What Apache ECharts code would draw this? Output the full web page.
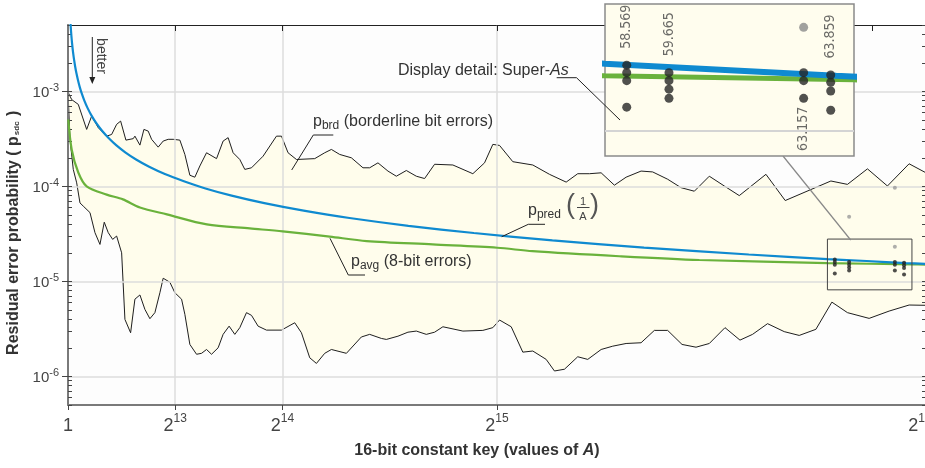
<!DOCTYPE html>
<html><head><meta charset="utf-8">
<script src="https://cdn.jsdelivr.net/npm/echarts@6/dist/echarts.min.js"></script>
<style>html,body{margin:0;padding:0;background:#fff}#c{width:925px;height:468px}</style>
</head><body><div id="c"></div>
<script>
// ---------------- data ----------------
// upper envelope (black, top of yellow band)
const upperA = [1, 23, 282, 786, 1427, 1808, 2312, 2953, 3334, 3716, 4021, 4425, 4982, 5112, 5494, 5799, 6127, 6386, 6890, 7271, 7653, 8034, 8546, 8927, 9309, 9690, 10072, 10583, 11346, 11849, 12231, 12613, 13124, 13505, 14017, 14902, 15924, 16306, 16809, 17450, 18846, 19609, 20120, 20754, 21646, 22531, 23043, 23676, 24439, 25080, 25843, 26606, 27239, 28001, 29398, 30924, 31817, 32450, 32962, 33977, 35503, 36777, 38051, 38936, 39829, 40722, 41736, 42629, 43773, 44658, 45803, 46825, 47841, 48985, 50129, 51274, 53311, 54783, 58271, 59537, 61063, 62590, 64245, 65536];
const upperP = [6e-3, 9.7e-4, 8.2e-4, 7.3e-4, 3.98e-4, 5.5e-4, 4.15e-4, 3.38e-4, 3.52e-4, 4.5e-4, 4.87e-4, 3.07e-4, 3.18e-4, 3.38e-4, 2.72e-4, 3.98e-4, 3.82e-4, 3.13e-4, 2.59e-4, 3.0e-4, 3.13e-4, 3.13e-4, 3.07e-4, 2.17e-4, 1.31e-4, 1.25e-4, 1.64e-4, 2.26e-4, 1.96e-4, 3.0e-4, 3.26e-4, 2.26e-4, 1.92e-4, 1.51e-4, 1.57e-4, 2.08e-4, 3.38e-4, 3.38e-4, 2.26e-4, 1.92e-4, 1.96e-4, 2.26e-4, 2.45e-4, 2.17e-4, 2.0e-4, 1.57e-4, 1.57e-4, 1.77e-4, 1.45e-4, 1.28e-4, 1.47e-4, 1.28e-4, 1.21e-4, 1.71e-4, 1.68e-4, 1.36e-4, 1.77e-4, 2.77e-4, 2.70e-4, 1.82e-4, 1.68e-4, 1.34e-4, 1.11e-4, 1.36e-4, 1.36e-4, 1.39e-4, 1.03e-4, 1.25e-4, 1.45e-4, 1.42e-4, 1.19e-4, 9.7e-5, 8.9e-5, 1.28e-4, 1.01e-4, 8.0e-5, 1.34e-4, 7.1e-5, 1.14e-4, 1.05e-4, 1.53e-4, 1.01e-4, 1.73e-4, 1.39e-4];
// lower envelope (black, bottom of yellow band)
const lowerA = [1, 153, 404, 664, 916, 1167, 1679, 2060, 2442, 2770, 3075, 3411, 3716, 4097, 4349, 4784, 5112, 5494, 5876, 6257, 6638, 7020, 7271, 7783, 8164, 8676, 8927, 9309, 9820, 10202, 10583, 10965, 11468, 11849, 12307, 12742, 13124, 13635, 14017, 14520, 15161, 16306, 17320, 17831, 18465, 18976, 19609, 20120, 21265, 22409, 23043, 23936, 24317, 25202, 25965, 26606, 27369, 28001, 28636, 30162, 31688, 32450, 32962, 33854, 34740, 35503, 36525, 37158, 37921, 38936, 39699, 40722, 41607, 42629, 43773, 44788, 45803, 46902, 47970, 48985, 50183, 51327, 52288, 53433, 54707, 55852, 57126, 58347, 59537, 61193, 62719, 64245, 65536];
const lowerP = [1.0e-3, 3.13e-4, 1.51e-4, 1.09e-4, 6.7e-5, 6.2e-5, 5.3e-5, 3.26e-5, 2.45e-5, 4.2e-5, 3.26e-5, 2.77e-5, 3.0e-5, 2.0e-5, 3.98e-6, 2.88e-6, 6.5e-6, 7.2e-6, 5.07e-6, 4.05e-6, 4.69e-6, 7.6e-6, 1.08e-5, 9.8e-6, 7.6e-6, 6.5e-6, 4.5e-6, 2.17e-6, 1.71e-6, 1.75e-6, 1.92e-6, 1.71e-6, 2.0e-6, 2.77e-6, 3.38e-6, 2.77e-6, 3.26e-6, 4.69e-6, 4.39e-6, 3.38e-6, 3.07e-6, 3.07e-6, 3.67e-6, 2.88e-6, 1.57e-6, 1.37e-6, 1.75e-6, 1.92e-6, 1.75e-6, 2.6e-6, 2.77e-6, 2.51e-6, 2.45e-6, 2.65e-6, 2.92e-6, 3.0e-6, 2.77e-6, 2.92e-6, 3.33e-6, 3.0e-6, 3.05e-6, 3.26e-6, 3.92e-6, 3.33e-6, 1.8e-6, 1.85e-6, 1.51e-6, 1.14e-6, 1.19e-6, 1.61e-6, 1.51e-6, 1.92e-6, 2.08e-6, 2.22e-6, 2.26e-6, 3.05e-6, 3.05e-6, 2.17e-6, 2.03e-6, 2.22e-6, 3.26e-6, 2.41e-6, 2.77e-6, 3.59e-6, 2.96e-6, 2.70e-6, 3.13e-6, 6.05e-6, 4.69e-6, 4.08e-6, 4.87e-6, 5.64e-6, 5.6e-6];
// p_pred (blue)
const predA = [150, 175, 200, 230, 260, 300, 350, 400, 470, 550, 650, 760, 900, 1050, 1250, 1500, 1800, 2150, 2600, 3100, 3700, 4400, 5200, 6200, 7400, 8800, 10500, 12500, 15000, 18000, 21500, 26000, 31000, 37000, 44000, 52000, 58000, 61000, 64000, 65536];
const predP = [6.67e-3, 5.71e-3, 5.0e-3, 4.35e-3, 3.85e-3, 3.33e-3, 2.86e-3, 2.5e-3, 2.13e-3, 1.82e-3, 1.54e-3, 1.32e-3, 1.11e-3, 9.52e-4, 8.0e-4, 6.67e-4, 5.56e-4, 4.65e-4, 3.85e-4, 3.23e-4, 2.70e-4, 2.27e-4, 1.92e-4, 1.61e-4, 1.35e-4, 1.14e-4, 9.52e-5, 8.0e-5, 6.67e-5, 5.56e-5, 4.65e-5, 3.85e-5, 3.23e-5, 2.70e-5, 2.27e-5, 1.92e-5, 1.72e-5, 1.64e-5, 1.56e-5, 1.53e-5];
// p_avg (green)
const avgA = [23, 282, 786, 1427, 2953, 4197, 5494, 7554, 10606, 13887, 16405, 19991, 22814, 27850, 32787, 35480, 42118, 48222, 58000, 64460, 65536];
const avgP = [5.07e-4, 2.45e-4, 1.40e-4, 1.0e-4, 8.2e-5, 7.3e-5, 6.0e-5, 5.07e-5, 3.98e-5, 3.61e-5, 3.36e-5, 2.96e-5, 2.66e-5, 2.45e-5, 2.26e-5, 2.08e-5, 1.84e-5, 1.68e-5, 1.56e-5, 1.51e-5, 1.50e-5];
// Super-As
const superA = [58569, 59665, 63157, 63859];
const superALabels = ['58.569', '59.665', '63.157', '63.859'];
const superALabelPos = ['top', 'top', 'bottom', 'top'];
const superADots = [
  [1.70e-5, 1.60e-5, 1.50e-5, 1.21e-5],
  [1.60e-5, 1.50e-5, 1.40e-5, 1.30e-5],
  [1.60e-5, 1.50e-5, 1.30e-5],
  [1.57e-5, 1.48e-5, 1.38e-5, 1.18e-5]
];
const outlierA = [59665, 63157, 63157];
const outlierP = [4.8e-5, 9.7e-5, 2.31e-5];
// axes
const xTickValues = [1, 8192, 16384, 32768, 65536];
const xTickBase = ['1', '2', '2', '2', '2'];
const xTickExp = ['', '13', '14', '15', '16'];
const xTopTicks = [8192, 16384, 32768, 61440];
const yTickValues = [1e-6, 1e-5, 1e-4, 1e-3];
const yTickExp = ['-6', '-5', '-4', '-3'];
const yMin = 5e-7, yMax = 5e-3;
const insetX = [58006, 64463];
const insetY = [8.15e-6, 2.79e-5];

// ---------------- build ----------------
const zip = (a, b) => a.map((v, i) => [v, b[i]]);
const yMinor = [];
for (let e = -7; e <= -3; e++) for (let m = 1; m <= 9; m++) {
  const v = m * Math.pow(10, e);
  if (v >= yMin * 0.999 && v <= yMax * 1.001) yMinor.push(v);
}
const superAPoints = [];
superA.forEach((a, i) => superADots[i].forEach(p => superAPoints.push([a, p])));
const insetDotData = [];
superA.forEach((a, i) => {
  const col = superADots[i];
  const li = superALabelPos[i] === 'top' ? 0 : col.length - 1;
  col.forEach((p, j) => {
    const item = { value: [a, p] };
    if (j === li) {
      const top = superALabelPos[i] === 'top';
      item.label = {
        show: true, formatter: superALabels[i], position: top ? 'top' : 'bottom',
        distance: top ? 12 : 4, rotate: 90, align: top ? 'left' : 'right', verticalAlign: 'middle',
        fontSize: 14, fontFamily: '"Liberation Sans Narrow", "DejaVu Sans Condensed", sans-serif', color: '#444'
      };
    }
    insetDotData.push(item);
  });
});
const FONT = '"Liberation Sans", Arial, Helvetica, sans-serif';
const nearest = (arr, v, log) => {
  let bi = 0, bd = Infinity;
  arr.forEach((t, i) => { const d = log ? Math.abs(Math.log10(t) - Math.log10(v)) : Math.abs(t - v); if (d < bd) { bd = d; bi = i; } });
  return bi;
};
const band = '#fffdec', plotBg = '#fdfdfd';
const blue = '#0f8ad0', green = '#6ab23c', ink = '#1e1e1e';

const chart = echarts.init(document.getElementById('c'), null, { renderer: 'canvas' });
chart.setOption({
  animation: false,
  textStyle: { fontFamily: FONT },
  grid: [
    { left: 68, right: -1, top: 25, bottom: 63, show: true, backgroundColor: plotBg, borderWidth: 0, containLabel: false, outerBoundsMode: 'none' },
    { left: 605, top: 4, width: 249, height: 152, show: true, backgroundColor: '#fffdee', borderColor: '#8a8a8a', borderWidth: 1.5, z: 10, containLabel: false, outerBoundsMode: 'none' }
  ],
  xAxis: [
    {
      gridIndex: 0, type: 'value', min: 1, max: 65536, position: 'bottom', z: 3,
      axisLine: { show: true, onZero: false, lineStyle: { color: '#7a7a7a', width: 2 } },
      axisTick: { show: true, customValues: xTickValues, length: 5, lineStyle: { color: '#444', width: 1 } },
      axisLabel: {
        customValues: xTickValues, margin: 8,
        formatter: v => { const i = nearest(xTickValues, v, false); return xTickExp[i] ? '{b|' + xTickBase[i] + '}{s|' + xTickExp[i] + '}' + (i === xTickValues.length - 1 ? '{g|}' : '') : '{b|' + xTickBase[i] + '}'; },
        rich: {
          b: { fontSize: 18, lineHeight: 22, verticalAlign: 'bottom', color: '#444', fontFamily: FONT },
          s: { fontSize: 12, lineHeight: 12, verticalAlign: 'top', color: '#444', fontFamily: FONT },
          g: { width: 12 }
        }
      },
      splitLine: { show: true, lineStyle: { color: '#dcdcdc', width: 1.5 } },
      name: '{t|16-bit constant key (values of }{i|A}{t|)}', nameLocation: 'middle', nameGap: 38,
      nameTextStyle: {
        padding: [0, 40, 0, 0],
        rich: {
          t: { fontSize: 16, fontWeight: 'bold', color: '#333', fontFamily: FONT },
          i: { fontSize: 16, fontWeight: 'bold', fontStyle: 'italic', color: '#333', fontFamily: FONT }
        }
      }
    },
    {
      gridIndex: 0, type: 'value', min: 1, max: 65536, position: 'top', z: 3,
      axisLine: { show: true, onZero: false, lineStyle: { color: '#222', width: 1 } },
      axisTick: { show: true, inside: true, customValues: xTopTicks, length: 6, lineStyle: { color: '#222', width: 1 } },
      axisLabel: { show: false }, splitLine: { show: false }
    },
    {
      gridIndex: 1, type: 'value', min: insetX[0], max: insetX[1],
      axisLine: { show: false }, axisTick: { show: false }, axisLabel: { show: false }, splitLine: { show: false }
    }
  ],
  yAxis: [
    {
      gridIndex: 0, type: 'log', min: yMin, max: yMax, position: 'left', z: 3,
      axisLine: { show: true, onZero: false, lineStyle: { color: '#7a7a7a', width: 2 } },
      axisTick: { show: true, customValues: yTickValues, length: 6, lineStyle: { color: '#444', width: 1 } },
      axisLabel: {
        customValues: yTickValues, margin: 9,
        formatter: v => { const i = nearest(yTickValues, v, true); return '{b|10}{s|' + yTickExp[i] + '}'; },
        rich: {
          b: { fontSize: 15, lineHeight: 17, verticalAlign: 'bottom', color: '#444', fontFamily: FONT },
          s: { fontSize: 11, lineHeight: 11, verticalAlign: 'top', color: '#444', fontFamily: FONT }
        }
      },
      splitLine: { show: true, lineStyle: { color: '#dcdcdc', width: 1.5 } },
      name: '{t|Residual error probability ( p}{sub|sdc}{t| )}{g|\u00a0\u00a0\u00a0\u00a0\u00a0\u00a0\u00a0\u00a0}', nameLocation: 'middle', nameGap: 43,
      nameTextStyle: {
        rich: {
          t: { fontSize: 16, fontWeight: 'bold', color: '#333', fontFamily: FONT },
          sub: { fontSize: 8, fontWeight: 'bold', color: '#333', fontFamily: FONT, padding: [6, 1, 0, 1] },
          g: { fontSize: 16, fontFamily: FONT }
        }
      }
    },
    {
      gridIndex: 0, type: 'log', min: yMin, max: yMax, position: 'left', z: 3,
      axisLine: { show: false }, axisLabel: { show: false }, splitLine: { show: false },
      axisTick: { show: true, inside: true, customValues: yMinor, length: 4, lineStyle: { color: '#444', width: 1 } }
    },
    {
      gridIndex: 0, type: 'log', min: yMin, max: yMax, position: 'right', z: 3,
      axisLine: { show: true, onZero: false, lineStyle: { color: '#7a7a7a', width: 2 } }, axisLabel: { show: false }, splitLine: { show: false },
      axisTick: { show: true, inside: true, customValues: yMinor, length: 4, lineStyle: { color: '#444', width: 1 } }
    },
    {
      gridIndex: 1, type: 'log', min: insetY[0], max: insetY[1], z: 11,
      axisLine: { show: false }, axisTick: { show: false, customValues: [1e-5] }, axisLabel: { show: false, customValues: [1e-5] },
      splitLine: { show: true, lineStyle: { color: '#d4d4d4', width: 2 } }
    }
  ],
  series: [
    { name: 'max', type: 'line', xAxisIndex: 0, yAxisIndex: 0, z: 1, data: zip(upperA, upperP), symbol: 'none', silent: true,
      lineStyle: { color: ink, width: 1 }, areaStyle: { color: band, opacity: 1, origin: 'start' } },
    { name: 'min', type: 'line', xAxisIndex: 0, yAxisIndex: 0, z: 1, data: zip(lowerA, lowerP), symbol: 'none', silent: true,
      lineStyle: { color: ink, width: 1 }, areaStyle: { color: plotBg, opacity: 1, origin: 'start' } },
    { name: 'p_avg', type: 'line', xAxisIndex: 0, yAxisIndex: 0, z: 5, data: zip(avgA, avgP), symbol: 'none', smooth: 0.3, silent: true,
      lineStyle: { color: green, width: 2.2 } },
    { name: 'p_pred', type: 'line', xAxisIndex: 0, yAxisIndex: 0, z: 5, data: zip(predA, predP), symbol: 'none', smooth: 0.3, silent: true,
      lineStyle: { color: blue, width: 2.2 } },
    { name: 'detail box', type: 'custom', xAxisIndex: 0, yAxisIndex: 0, z: 6, silent: true, clip: false,
      data: [[insetX[0], insetY[0], insetX[1], insetY[1]]],
      renderItem: (params, api) => {
        const p0 = api.coord([api.value(0), api.value(3)]);
        const p1 = api.coord([api.value(2), api.value(1)]);
        return { type: 'rect', shape: { x: p0[0], y: p0[1], width: p1[0] - p0[0], height: p1[1] - p0[1] },
          style: { fill: 'none', stroke: '#444', lineWidth: 1 } };
      } },
    { name: 'superA', type: 'scatter', xAxisIndex: 0, yAxisIndex: 0, z: 6, data: superAPoints, symbolSize: 4, silent: true,
      itemStyle: { color: '#222' } },
    { name: 'outliers', type: 'scatter', xAxisIndex: 0, yAxisIndex: 0, z: 6, data: zip(outlierA, outlierP), symbolSize: 4, silent: true,
      itemStyle: { color: '#9a9a9a' } },
    // inset
    { name: 'p_avg inset', type: 'line', xAxisIndex: 2, yAxisIndex: 3, z: 12, data: zip(avgA, avgP), symbol: 'none', silent: true,
      lineStyle: { color: green, width: 5 } },
    { name: 'p_pred inset', type: 'line', xAxisIndex: 2, yAxisIndex: 3, z: 12, data: zip(predA, predP), symbol: 'none', silent: true,
      lineStyle: { color: blue, width: 6 } },
    { name: 'superA inset', type: 'scatter', xAxisIndex: 2, yAxisIndex: 3, z: 13, data: insetDotData, symbolSize: 9, silent: true, clip: true,
      itemStyle: { color: '#262626' } },
    { name: 'outliers inset', type: 'scatter', xAxisIndex: 2, yAxisIndex: 3, z: 13, data: zip(outlierA, outlierP), symbolSize: 9, silent: true, clip: true,
      itemStyle: { color: '#8a8a8a' } }
  ],
  graphic: [
    // better arrow
    { type: 'line', z: 20, shape: { x1: 92.3, y1: 37, x2: 92.3, y2: 79 }, style: { stroke: '#222', lineWidth: 1 } },
    { type: 'polygon', z: 20, shape: { points: [[89.3, 77], [95.3, 77], [92.3, 84]] }, style: { fill: '#222' } },
    { type: 'text', z: 20, x: 100.5, y: 56, rotation: -Math.PI / 2,
      style: { text: 'better', fontSize: 14, fontFamily: FONT, fill: '#444', align: 'center', verticalAlign: 'middle' } },
    // p_brd
    { type: 'polyline', z: 20, shape: { points: [[291.7, 170], [313.3, 135], [333.3, 135]] }, style: { stroke: '#222', lineWidth: 1, fill: null } },
    { type: 'text', z: 20, x: 313, y: 122, style: {
        text: '{p|p}{sub|brd}{t| (borderline bit errors)}', align: 'left', verticalAlign: 'middle',
        rich: { p: { fontSize: 16, fontFamily: FONT, fill: '#333', lineHeight: 20, verticalAlign: 'middle' },
                sub: { fontSize: 12, fontFamily: FONT, fill: '#333', lineHeight: 12, verticalAlign: 'bottom' },
                t: { fontSize: 16, fontFamily: FONT, fill: '#333', lineHeight: 20, verticalAlign: 'middle' } } } },
    // p_avg
    { type: 'polyline', z: 20, shape: { points: [[330, 238.3], [348.3, 275], [365, 275]] }, style: { stroke: '#222', lineWidth: 1, fill: null } },
    { type: 'text', z: 20, x: 351, y: 262, style: {
        text: '{p|p}{sub|avg}{t| (8-bit errors)}', align: 'left', verticalAlign: 'middle',
        rich: { p: { fontSize: 16, fontFamily: FONT, fill: '#333', lineHeight: 20, verticalAlign: 'middle' },
                sub: { fontSize: 12, fontFamily: FONT, fill: '#333', lineHeight: 12, verticalAlign: 'bottom' },
                t: { fontSize: 16, fontFamily: FONT, fill: '#333', lineHeight: 20, verticalAlign: 'middle' } } } },
    // p_pred
    { type: 'polyline', z: 20, shape: { points: [[501.7, 236.7], [528.3, 224.3], [545, 224.3]] }, style: { stroke: '#222', lineWidth: 1, fill: null } },
    { type: 'text', z: 20, x: 528, y: 211, style: {
        text: '{p|p}{sub|pred}', align: 'left', verticalAlign: 'middle',
        rich: { p: { fontSize: 16, fontFamily: FONT, fill: '#333', lineHeight: 20, verticalAlign: 'middle' },
                sub: { fontSize: 12, fontFamily: FONT, fill: '#333', lineHeight: 12, verticalAlign: 'bottom' } } } },
    { type: 'text', z: 20, x: 570.5, y: 206, style: { text: '(', fontSize: 27, fontFamily: FONT, fill: '#555', align: 'center', verticalAlign: 'middle' } },
    { type: 'text', z: 20, x: 583, y: 201.5, style: { text: '1', fontSize: 11, fontFamily: FONT, fill: '#444', align: 'center', verticalAlign: 'middle' } },
    { type: 'line', z: 20, shape: { x1: 577, y1: 207.5, x2: 589.5, y2: 207.5 }, style: { stroke: '#444', lineWidth: 1 } },
    { type: 'text', z: 20, x: 583, y: 216.5, style: { text: 'A', fontSize: 11, fontFamily: FONT, fill: '#444', align: 'center', verticalAlign: 'middle' } },
    { type: 'text', z: 20, x: 594.5, y: 206, style: { text: ')', fontSize: 27, fontFamily: FONT, fill: '#555', align: 'center', verticalAlign: 'middle' } },
    // display detail
    { type: 'text', z: 20, x: 398, y: 71, style: {
        text: '{t|Display detail: Super-}{i|As}', align: 'left', verticalAlign: 'middle',
        rich: { t: { fontSize: 16, fontFamily: FONT, fill: '#333' }, i: { fontSize: 16, fontFamily: FONT, fontStyle: 'italic', fill: '#333' } } } },
    { type: 'polyline', z: 20, shape: { points: [[556.7, 77.7], [576.5, 77.7], [620, 120]] }, style: { stroke: '#222', lineWidth: 1, fill: null } },
    // inset connector
    { type: 'line', z: 9, shape: { x1: 783, y1: 156, x2: 850.7, y2: 240 }, style: { stroke: '#888', lineWidth: 1.2 } }
  ]
});
</script></body></html>
